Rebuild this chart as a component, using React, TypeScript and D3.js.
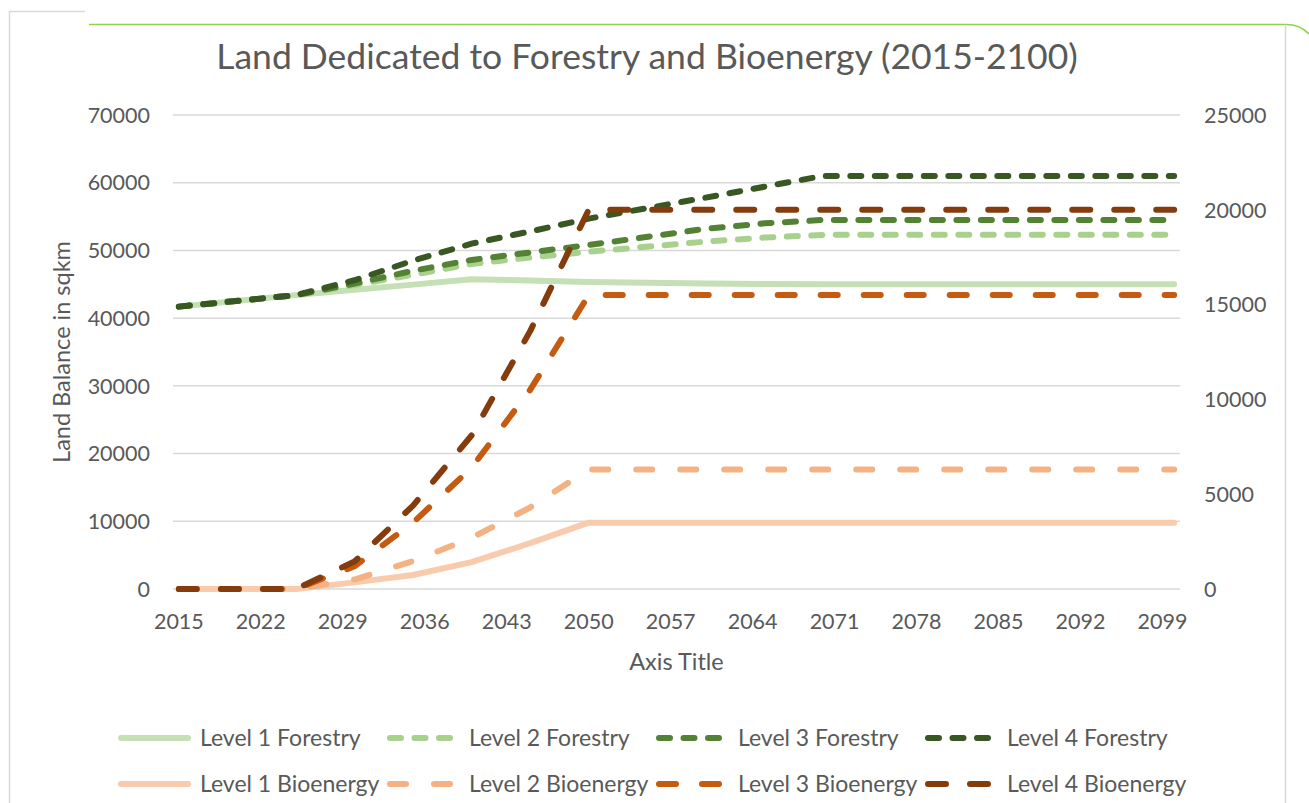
import React from "react";
import * as d3 from "d3";

const W = 1309;
const H = 803;

const years = d3.range(2015, 2101);
const xTickYears = [2015, 2022, 2029, 2036, 2043, 2050, 2057, 2064, 2071, 2078, 2085, 2092, 2099];
const leftTicks = [0, 10000, 20000, 30000, 40000, 50000, 60000, 70000];
const rightTicks = [0, 5000, 10000, 15000, 20000, 25000];

const keyYears = [2015, 2025, 2030, 2035, 2040, 2045, 2050, 2060, 2065, 2070, 2100];

const level1Forestry = [41700, 43400, 44200, 44950, 45750, 45550, 45350, 45100, 45050, 45000, 45000];
const level2Forestry = [41700, 43400, 44900, 46400, 48000, 48950, 49800, 51300, 51900, 52300, 52300];
const level3Forestry = [41700, 43400, 45100, 47000, 48600, 49700, 50800, 53200, 54000, 54500, 54500];
const level4Forestry = [41700, 43400, 45600, 48500, 51000, 52800, 54700, 57800, 59400, 61000, 61000];

const level1Bio = [0, 0, 350, 740, 1420, 2420, 3500, 3500, 3500, 3500, 3500];
const level2Bio = [0, 0, 500, 1470, 2700, 4300, 6300, 6300, 6300, 6300, 6300];
const level3Bio = [0, 0, 1200, 3500, 6400, 10500, 15500, 15500, 15500, 15500, 15500];
const level4Bio = [0, 0, 1450, 4400, 8100, 13600, 20000, 20000, 20000, 20000, 20000];

type Series = {
  name: string;
  values: number[];
  axis: "left" | "right";
  color: string;
  dash: string | null;
};

const series: Series[] = [
  { name: "Level 1 Forestry", values: level1Forestry, axis: "left", color: "#C5E0B4", dash: null },
  { name: "Level 2 Forestry", values: level2Forestry, axis: "left", color: "#A9D18E", dash: "11 13.5" },
  { name: "Level 3 Forestry", values: level3Forestry, axis: "left", color: "#548235", dash: "11 13.5" },
  { name: "Level 4 Forestry", values: level4Forestry, axis: "left", color: "#385723", dash: "11 13.5" },
  { name: "Level 1 Bioenergy", values: level1Bio, axis: "right", color: "#F8CBAD", dash: null },
  { name: "Level 2 Bioenergy", values: level2Bio, axis: "right", color: "#F4B183", dash: "16 28" },
  { name: "Level 3 Bioenergy", values: level3Bio, axis: "right", color: "#C55A11", dash: "17 26" },
  { name: "Level 4 Bioenergy", values: level4Bio, axis: "right", color: "#843C0C", dash: "18 24" },
];

const drawOrder = [4, 5, 6, 0, 1, 2, 3, 7];

const FONT = "Lato, 'Open Sans', sans-serif";
const TXT = "#595959";

export default function App() {
  const plotL = 173;
  const plotR = 1180;
  const plotT = 115;
  const plotB = 589;

  const x = d3.scaleBand<number>().domain(years).range([plotL, plotR]).padding(0);
  const xc = (yr: number) => (x(yr) as number) + x.bandwidth() / 2;
  const yL = d3.scaleLinear().domain([0, 70000]).range([plotB, plotT]);
  const yR = d3.scaleLinear().domain([0, 25000]).range([plotB, plotT]);

  const lineFor = (s: Series) => {
    const ys = s.axis === "left" ? yL : yR;
    const gen = d3
      .line<number>()
      .x((_, i) => xc(keyYears[i]))
      .y((v) => ys(v));
    return gen(s.values) || "";
  };

  const legendX = [118, 387, 656, 925];
  const legendY = [738, 784];

  return (
    <svg
      width={W}
      height={H}
      style={{ position: "absolute", left: 0, top: 0, background: "#fff" }}
      fontFamily={FONT}
    >
      <rect x={0} y={0} width={W} height={H} fill="#fff" />
      {/* chart border */}
      <path d="M9.5,803 V11.5 H85" fill="none" stroke="#D9D9D9" strokeWidth={1.5} />
      <path d="M1285.5,26 V803" fill="none" stroke="#D9D9D9" strokeWidth={1.5} />
      {/* slide decoration */}
      <path d="M89,24.5 H1286 Q1300,24.5 1309,34" fill="none" stroke="#92D050" strokeWidth={1.6} />

      {/* title */}
      <text x={647} y={69} textAnchor="middle" fontSize={35.5} fill={TXT}>
        Land Dedicated to Forestry and Bioenergy (2015-2100)
      </text>

      {/* gridlines */}
      {leftTicks.map((t) => (
        <line key={"g" + t} x1={plotL} x2={plotR} y1={yL(t)} y2={yL(t)} stroke="#D9D9D9" strokeWidth={1.5} />
      ))}

      {/* left axis labels */}
      {leftTicks.map((t) => (
        <text key={"l" + t} x={150} y={yL(t)} dy="0.36em" textAnchor="end" fontSize={21.5} fill={TXT}>
          {t}
        </text>
      ))}
      {/* right axis labels */}
      {rightTicks.map((t) => (
        <text key={"r" + t} x={1204} y={yR(t)} dy="0.36em" textAnchor="start" fontSize={21.5} fill={TXT}>
          {t}
        </text>
      ))}
      {/* x labels */}
      {xTickYears.map((yr) => (
        <text key={"x" + yr} x={xc(yr)} y={629} textAnchor="middle" fontSize={21.5} fill={TXT}>
          {yr}
        </text>
      ))}

      {/* axis titles */}
      <text
        transform={`translate(70,${(plotT + plotB) / 2}) rotate(-90)`}
        textAnchor="middle"
        fontSize={23.5}
        fill={TXT}
      >
        Land Balance in sqkm
      </text>
      <text x={(plotL + plotR) / 2} y={670} textAnchor="middle" fontSize={23.5} fill={TXT}>
        Axis Title
      </text>

      {/* series */}
      {drawOrder.map((i) => {
        const s = series[i];
        return (
          <path
            key={s.name}
            d={lineFor(s)}
            fill="none"
            stroke={s.color}
            strokeWidth={6}
            strokeLinecap="round"
            strokeLinejoin="round"
            strokeDasharray={s.dash || undefined}
          />
        );
      })}

      {/* legend */}
      {series.map((s, i) => {
        const col = i % 4;
        const row = Math.floor(i / 4);
        const lx = legendX[col];
        const ly = legendY[row];
        return (
          <g key={"lg" + s.name}>
            <line
              x1={lx + 3}
              x2={lx + 70}
              y1={ly}
              y2={ly}
              stroke={s.color}
              strokeWidth={6}
              strokeLinecap="round"
              strokeDasharray={s.dash || undefined}
            />
            <text x={lx + 82} y={ly} dy="0.36em" fontSize={23} fill={TXT}>
              {s.name}
            </text>
          </g>
        );
      })}
    </svg>
  );
}
